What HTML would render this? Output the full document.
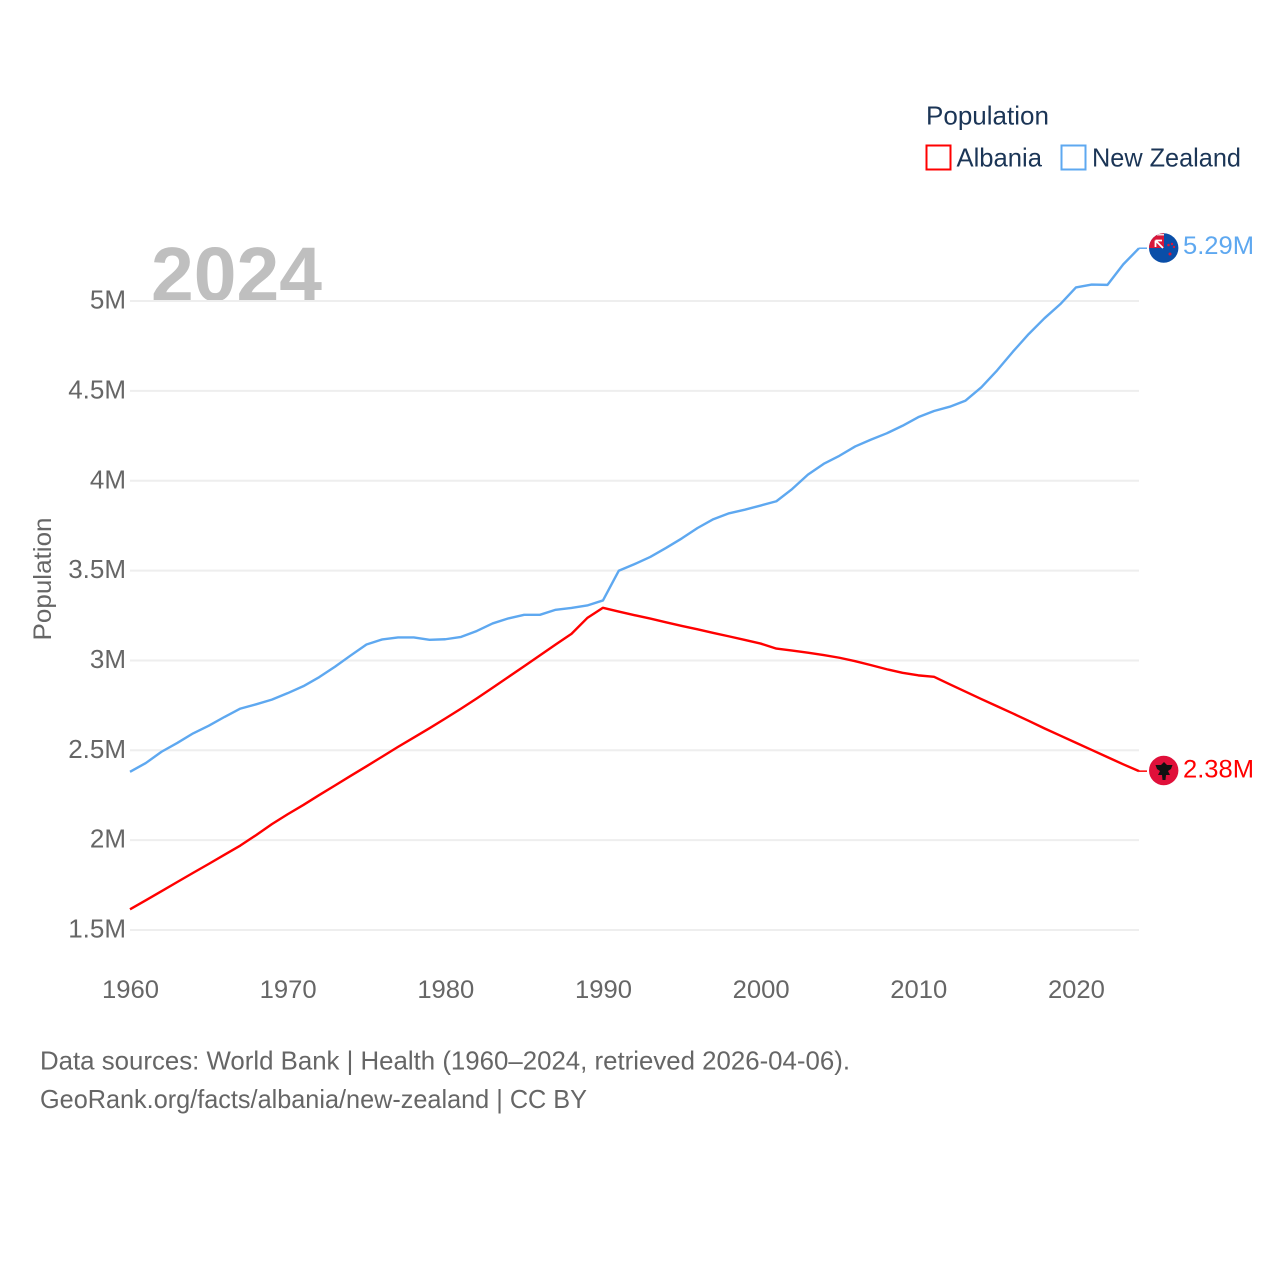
<!DOCTYPE html>
<html lang="en">
<head>
<meta charset="utf-8">
<title>Albania and New Zealand population</title>
<style>
html,body{margin:0;padding:0;background:#fff;}
svg{display:block;font-family:"Liberation Sans",sans-serif;}
</style>
</head>
<body>
<svg id="chart" xmlns="http://www.w3.org/2000/svg" width="1280" height="1280" viewBox="0 0 1280 1280">
  <defs>
    <clipPath id="clip-nz"><circle cx="1163.700" cy="248" r="14.700"/></clipPath>
    <clipPath id="clip-al"><circle cx="1163.700" cy="770.500" r="14.700"/></clipPath>
  </defs>
  <text x="151" y="301" font-size="77" font-weight="700" fill="#bfbfbf" textLength="171" lengthAdjust="spacingAndGlyphs">2024</text>
  <g id="grid"></g>
  <g id="y-ticks"></g>
  <g id="x-ticks"></g>
  <text transform="translate(51,579) rotate(-90)" text-anchor="middle" font-size="25" fill="#666666" textLength="123" lengthAdjust="spacingAndGlyphs">Population</text>
  <g id="series"></g>

  <g clip-path="url(#clip-nz)">
    <rect x="1149" y="233" width="30" height="30" fill="#0a4ea8"/>
    <rect x="1149" y="233" width="15" height="15" fill="#d8173a"/>
    <path d="M1155.500 240.500L1163 248M1155.500 240.500H1162M1155.500 240.500V247" fill="none" stroke="#ffffff" stroke-width="1.800"/>
    <rect x="1157" y="234" width="7" height="1.500" fill="#f2dfe4"/>
    <circle cx="1168.500" cy="245" r="1.300" fill="#d8173a"/>
    <circle cx="1172" cy="244" r="1.200" fill="#d8173a"/>
    <circle cx="1174" cy="247" r="1.200" fill="#d8173a"/>
    <circle cx="1170" cy="254" r="1.500" fill="#d8173a"/>
  </g>
  <g clip-path="url(#clip-al)">
    <rect x="1149" y="755" width="30" height="31" fill="#e0103a"/>
    <path d="M1164 762L1167 765L1172.500 765L1171 769L1168 771L1170 775L1166 775L1165.500 780L1162.500 780L1162 775L1158 775L1160 771L1157 769L1155.500 765L1161 765Z" fill="#111111"/>
  </g>
  <text id="nz-value" x="1183" y="254" font-size="25" fill="#5ea8f0" textLength="71" lengthAdjust="spacingAndGlyphs"></text>
  <text id="al-value" x="1183" y="777.500" font-size="25" fill="#ff0000" textLength="71" lengthAdjust="spacingAndGlyphs"></text>

  <g>
    <text x="926" y="124.500" font-size="26" fill="#1b3556" textLength="123" lengthAdjust="spacingAndGlyphs">Population</text>
    <rect x="926.500" y="145.500" width="24" height="24" fill="#ffffff" stroke="#ff0000" stroke-width="2"/>
    <text x="956.500" y="166.500" font-size="26" fill="#1b3556" textLength="85.500" lengthAdjust="spacingAndGlyphs">Albania</text>
    <rect x="1061.500" y="145.500" width="24" height="24" fill="#ffffff" stroke="#5ea8f0" stroke-width="2"/>
    <text x="1092" y="166.500" font-size="26" fill="#1b3556" textLength="149" lengthAdjust="spacingAndGlyphs">New Zealand</text>
  </g>

  <text x="40" y="1069.500" font-size="26" fill="#666666" textLength="810" lengthAdjust="spacingAndGlyphs">Data sources: World Bank | Health (1960–2024, retrieved 2026-04-06).</text>
  <text x="40" y="1108" font-size="26" fill="#666666" textLength="547" lengthAdjust="spacingAndGlyphs">GeoRank.org/facts/albania/new-zealand | CC BY</text>
</svg>
<script>
const years = [1960,1961,1962,1963,1964,1965,1966,1967,1968,1969,1970,1971,1972,1973,1974,1975,1976,1977,1978,1979,1980,1981,1982,1983,1984,1985,1986,1987,1988,1989,1990,1991,1992,1993,1994,1995,1996,1997,1998,1999,2000,2001,2002,2003,2004,2005,2006,2007,2008,2009,2010,2011,2012,2013,2014,2015,2016,2017,2018,2019,2020,2021,2022,2023,2024];
const albania = [1.615,1.665,1.716,1.767,1.818,1.868,1.919,1.970,2.028,2.089,2.144,2.196,2.251,2.304,2.358,2.411,2.465,2.519,2.571,2.623,2.677,2.732,2.789,2.848,2.908,2.968,3.028,3.089,3.148,3.236,3.293,3.272,3.252,3.233,3.212,3.192,3.173,3.153,3.134,3.114,3.094,3.066,3.055,3.043,3.030,3.015,2.996,2.974,2.951,2.931,2.917,2.909,2.867,2.826,2.785,2.745,2.705,2.664,2.622,2.582,2.542,2.502,2.462,2.422,2.384];
const newZealand = [2.380,2.429,2.492,2.541,2.594,2.637,2.686,2.732,2.756,2.782,2.818,2.857,2.907,2.965,3.028,3.089,3.117,3.128,3.128,3.115,3.118,3.131,3.164,3.206,3.234,3.254,3.254,3.282,3.292,3.306,3.334,3.499,3.536,3.576,3.626,3.679,3.737,3.786,3.819,3.839,3.862,3.886,3.954,4.034,4.094,4.139,4.191,4.229,4.264,4.306,4.354,4.388,4.412,4.446,4.520,4.614,4.718,4.816,4.904,4.982,5.076,5.092,5.090,5.204,5.294];
const yTickValues = [1.5,2,2.5,3,3.5,4,4.5,5];
const yTickLabels = ["1.5M","2M","2.5M","3M","3.5M","4M","4.5M","5M"];
const xTickYears = [1960,1970,1980,1990,2000,2010,2020];
const endLabels = ["2.38M","5.29M"];

const SVG_NS = "http://www.w3.org/2000/svg";
const xScale = function (year) { return 130 + (year - 1960) * (1139 - 130) / 64; };
const yScale = function (value) { return 930 - (value - 1.5) * 179.7; };
const make = function (tag, parent) {
  const el = document.createElementNS(SVG_NS, tag);
  parent.appendChild(el);
  return el;
};

const gridGroup = document.getElementById("grid");
const yGroup = document.getElementById("y-ticks");
const xGroup = document.getElementById("x-ticks");
const seriesGroup = document.getElementById("series");

yTickValues.forEach(function (value, i) {
  const line = make("line", gridGroup);
  
  
  line.setAttribute("x1", xScale(1960));
  line.setAttribute("x2", xScale(2024));
  line.setAttribute("y1", yScale(value));
  line.setAttribute("y2", yScale(value));
  line.setAttribute("stroke", "#eeeeee");
  line.setAttribute("stroke-width", "2");

  const label = make("text", yGroup);
  
  
  label.setAttribute("x", 126);
  label.setAttribute("y", yScale(value) + 7.5);
  label.setAttribute("text-anchor", "end");
  label.setAttribute("font-size", "26");
  label.setAttribute("fill", "#666666");
  label.textContent = yTickLabels[i];
});

xTickYears.forEach(function (year) {
  const label = make("text", xGroup);
  
  
  label.setAttribute("x", xScale(year) + 0.5);
  label.setAttribute("y", 998);
  label.setAttribute("text-anchor", "middle");
  label.setAttribute("font-size", "25");
  label.setAttribute("fill", "#666666");
  label.setAttribute("textLength", "57");
  label.setAttribute("lengthAdjust", "spacingAndGlyphs");
  label.textContent = String(year);
});

const pathFor = function (values) {
  return values.map(function (value, i) {
    return (i ? "L" : "M") + xScale(years[i]).toFixed(2) + " " + yScale(value).toFixed(2);
  }).join("");
};

const nzLine = make("path", seriesGroup);


nzLine.setAttribute("d", pathFor(newZealand));
nzLine.setAttribute("fill", "none");
nzLine.setAttribute("stroke", "#5ea8f0");
nzLine.setAttribute("stroke-width", "2.4");
nzLine.setAttribute("stroke-linejoin", "round");

const alLine = make("path", seriesGroup);


alLine.setAttribute("d", pathFor(albania));
alLine.setAttribute("fill", "none");
alLine.setAttribute("stroke", "#ff0000");
alLine.setAttribute("stroke-width", "2.4");
alLine.setAttribute("stroke-linejoin", "round");

const nzLead = make("line", seriesGroup);


nzLead.setAttribute("x1", xScale(2024));
nzLead.setAttribute("x2", xScale(2024) + 8);
nzLead.setAttribute("y1", yScale(newZealand[newZealand.length - 1]));
nzLead.setAttribute("y2", yScale(newZealand[newZealand.length - 1]));
nzLead.setAttribute("stroke", "#5ea8f0");
nzLead.setAttribute("stroke-width", "1.5");

const alLead = make("line", seriesGroup);


alLead.setAttribute("x1", xScale(2024));
alLead.setAttribute("x2", xScale(2024) + 8);
alLead.setAttribute("y1", yScale(albania[albania.length - 1]));
alLead.setAttribute("y2", yScale(albania[albania.length - 1]));
alLead.setAttribute("stroke", "#ff0000");
alLead.setAttribute("stroke-width", "1.5");

document.getElementById("al-value").textContent = endLabels[0];
document.getElementById("nz-value").textContent = endLabels[1];
</script>
</body>
</html>
